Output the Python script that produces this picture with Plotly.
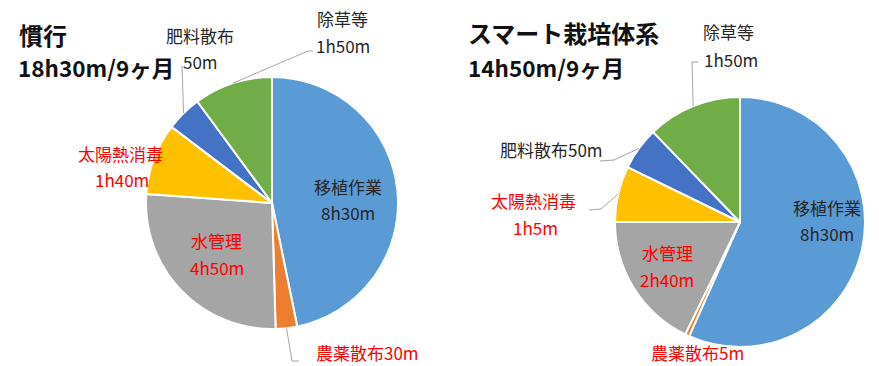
import math
import plotly.graph_objects as go

W, H = 879, 366

# Slice order (clockwise from 12 o'clock)
categories = ["移植作業", "農薬散布", "水管理", "太陽熱消毒", "肥料散布", "除草等"]
colors = ["#5B9BD5", "#ED7D31", "#A5A5A5", "#FFC000", "#4472C4", "#70AD47"]

# Working time in minutes per 9 months
conventional_min = [510, 30, 290, 100, 50, 110]
smart_min = [510, 5, 160, 65, 50, 110]

conventional_text = ["8h30m", "30m", "4h50m", "1h40m", "50m", "1h50m"]
smart_text = ["8h30m", "5m", "2h40m", "1h5m", "50m", "1h50m"]

titles = [("慣行", "18h30m/9ヶ月"), ("スマート栽培体系", "14h50m/9ヶ月")]

# Pie geometry in pixels: centre x, centre y (from top), radius
pies = [(272, 203, 126), (740, 222, 125)]


def px(x, y):
    return x / W, 1 - y / H


fig = go.Figure()
for (cx, cy, r), vals, name in zip(pies, [conventional_min, smart_min], ["慣行", "スマート"]):
    fig.add_trace(go.Pie(
        labels=categories, values=vals, name=name,
        sort=False, direction="clockwise", rotation=0,
        marker=dict(colors=colors, line=dict(color="white", width=2)),
        textinfo="none", hoverinfo="label+value", showlegend=False,
        domain=dict(x=[(cx - r) / W, (cx + r) / W],
                    y=[(H - cy - r) / H, (H - cy + r) / H]),
    ))

FONT = "Noto Sans CJK JP"
RED = "#FF0000"
DARK = "#262626"
LINE = "#A6A6A6"
LABEL_SIZE = 17

annotations = []
shapes = []


def text(x, y, s, color=DARK, size=LABEL_SIZE, bold=False, xanchor="center"):
    ax, ay = px(x, y)
    annotations.append(dict(
        x=ax, y=ay, xref="paper", yref="paper", showarrow=False,
        text=f"<b>{s}</b>" if bold else s, xanchor=xanchor, yanchor="middle",
        font=dict(family=FONT, size=size, color=color)))


def edge_point(pie_idx, vals, idx):
    cx, cy, r = pies[pie_idx]
    total = sum(vals)
    start = sum(vals[:idx]) / total * 360
    mid = math.radians(start + vals[idx] / total * 180)
    return cx + r * math.sin(mid), cy - r * math.cos(mid)


def leader(points):
    path = "M " + " L ".join(f"{px(x, y)[0]},{px(x, y)[1]}" for x, y in points)
    shapes.append(dict(type="path", path=path, xref="paper", yref="paper",
                       line=dict(color=LINE, width=1)))


# Titles
text(17, 34, titles[0][0], color="#111", size=24, bold=True, xanchor="left")
text(16, 67, titles[0][1], color="#111", size=22.5, bold=True, xanchor="left")
text(466, 33, titles[1][0], color="#111", size=24, bold=True, xanchor="left")
text(466, 67, titles[1][1], color="#111", size=22.5, bold=True, xanchor="left")

# Left pie labels
c, t = conventional_min, conventional_text
text(348, 186, categories[0]); text(348, 212, t[0])
text(216, 241, categories[2], color=RED); text(217, 267, t[2], color=RED)
text(120, 153, categories[3], color=RED); text(122, 179, t[3], color=RED)
text(200, 35, categories[4]); text(200, 62, t[4])
text(342, 18, categories[5]); text(343, 45, t[5])
text(367, 352, categories[1] + t[1], color=RED)

x0, y0 = edge_point(0, c, 5); leader([(x0, y0), (308, 51), (313, 51)])
x0, y0 = edge_point(0, c, 4); leader([(x0, y0), (182, 66)])
x0, y0 = edge_point(0, c, 1); leader([(x0, y0), (292, 361), (299, 361)])

# Right pie labels
s, t = smart_min, smart_text
text(827, 207, categories[0]); text(827, 233, t[0])
text(667, 252, categories[2], color=RED); text(667, 279, t[2], color=RED)
text(533, 200, categories[3], color=RED); text(535, 227, t[3], color=RED)
text(551, 149, categories[4] + t[4])
text(728, 32, categories[5]); text(731, 59, t[5])
text(697, 352, categories[1] + t[1], color=RED)

x0, y0 = edge_point(1, s, 5); leader([(x0, y0), (692, 62), (698, 62)])
x0, y0 = edge_point(1, s, 4); leader([(x0, y0), (614, 160), (600, 161)])
x0, y0 = edge_point(1, s, 3); leader([(x0, y0), (601, 209), (589, 210)])

fig.update_layout(
    width=W, height=H, margin=dict(l=0, r=0, t=0, b=0),
    paper_bgcolor="white", plot_bgcolor="white",
    annotations=annotations, shapes=shapes,
    font=dict(family=FONT),
)

fig.write_html("out.html")
